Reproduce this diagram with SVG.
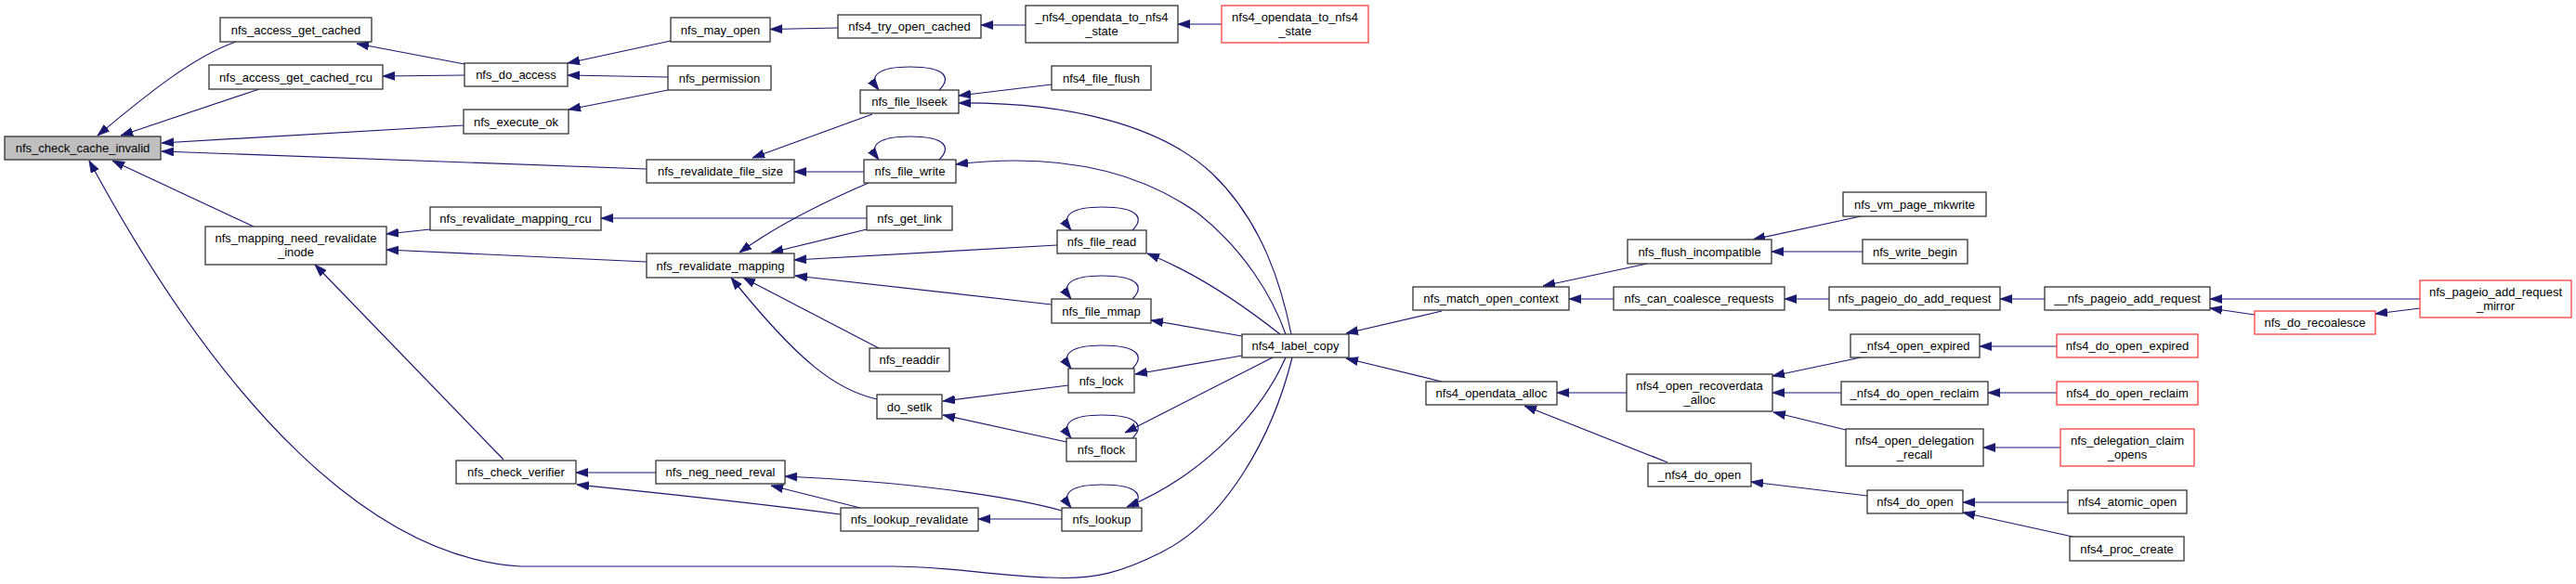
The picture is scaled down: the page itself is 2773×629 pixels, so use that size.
<svg xmlns="http://www.w3.org/2000/svg" width="2773" height="629" viewBox="0 0 2773 629">
<defs>
<style>
.n rect{fill:#ffffff;stroke:#333333;stroke-width:1.3}
.n.root rect{fill:#bfbfbf}
.n.red rect{stroke:#ff4040}
.n text{font-family:"Liberation Sans",Arial,sans-serif;font-size:13px;fill:#000000;text-anchor:middle}
#edges path{fill:none;stroke:#191970;stroke-width:1.2;marker-end:url(#ah)}
</style>
<marker id="ah" markerUnits="userSpaceOnUse" markerWidth="14" markerHeight="10" refX="13" refY="5" orient="auto" viewBox="0 0 14 10">
<path d="M0,0.5 L13,5 L0,9.5 z" fill="#191970" stroke="#191970" stroke-width="0.8"/>
</marker>
</defs>
<rect width="2773" height="629" fill="#ffffff"/>
<g id="edges">
<path d="M254,45 C210,60 160,100 105,146"/>
<path d="M279,96 L130,146"/>
<path d="M499,135 L174,154"/>
<path d="M696,182 L174,163"/>
<path d="M273,244 L121,173"/>
<path d="M1391,385 C1370,470 1320,560 1250,595 C1210,615 1180,625 1130,622 C1070,620 1020,610 960,610 L560,610 C400,600 240,440 96,173"/>
<path d="M500,69 L384,47"/>
<path d="M500,81 L412,82"/>
<path d="M722,44 L611,68"/>
<path d="M719,83 L611,81"/>
<path d="M719,97 L612,118"/>
<path d="M902,30 L829,31.5"/>
<path d="M1104,27 L1056,27"/>
<path d="M1315,26 L1268,26"/>
<path d="M1132,91 L1032,103"/>
<path d="M1390,360 C1380,310 1360,240 1305,187 C1250,135 1150,110 1032,111"/>
<path d="M1011,97 C1023,85 1021,72 979,72 C949,72 933,80 946,97"/>
<path d="M939,123 L810,170"/>
<path d="M930,185 L855,185"/>
<path d="M1011,172 C1023,160 1021,147 979,147 C949,147 933,155 946,172"/>
<path d="M1384,360 C1370,320 1340,270 1290,230 C1220,180 1130,165 1029,177"/>
<path d="M935,197 C900,212 840,240 796,272"/>
<path d="M933,235 L647,235"/>
<path d="M933,247 L830,272"/>
<path d="M1138,264 L855,280"/>
<path d="M1219,248 C1231,236 1228,223 1186,223 C1156,223 1140,231 1153,248"/>
<path d="M1378,360 C1340,330 1290,295 1235,273"/>
<path d="M1132,328 L856,297"/>
<path d="M1219,322 C1231,310 1228,297 1186,297 C1156,297 1140,305 1153,322"/>
<path d="M1337,362 L1239,345"/>
<path d="M946,375 L800,299"/>
<path d="M944,430 C900,420 860,390 787,299"/>
<path d="M1150,415 L1015,432"/>
<path d="M1219,397 C1231,385 1228,372 1186,372 C1156,372 1140,380 1153,397"/>
<path d="M1337,383 L1222,403"/>
<path d="M1148,476 L1015,447"/>
<path d="M1219,472 C1231,460 1228,447 1186,447 C1156,447 1140,455 1153,472"/>
<path d="M1370,385 L1211,466"/>
<path d="M706,509 L620,509"/>
<path d="M905,554 C800,540 700,530 621,522"/>
<path d="M926,547 L830,523"/>
<path d="M1143,550 C1100,538 1000,520 845,513"/>
<path d="M1143,559 L1053,559"/>
<path d="M1219,547 C1231,535 1228,522 1186,522 C1156,522 1140,530 1153,547"/>
<path d="M1384,385 C1360,440 1300,510 1213,546"/>
<path d="M542,495 L339,285"/>
<path d="M463,247 L416,252"/>
<path d="M696,282 L416,269"/>
<path d="M1552,335 L1449,359"/>
<path d="M1552,411 L1449,386"/>
<path d="M1773,284 L1661,308"/>
<path d="M1737,322 L1689,322"/>
<path d="M2003,233 L1887,258"/>
<path d="M2005,271 L1907,271"/>
<path d="M1969,322 L1921,322"/>
<path d="M2201,322 L2153,322"/>
<path d="M2605,322 L2379,322"/>
<path d="M2427,339 L2379,332"/>
<path d="M2605,332 L2557,338"/>
<path d="M2003,385 L1908,405"/>
<path d="M1982,423 L1908,423"/>
<path d="M1987,463 L1909,444"/>
<path d="M1751,423 L1676,423"/>
<path d="M1795,498 L1641,437"/>
<path d="M2010,534 L1885,519"/>
<path d="M2214,373 L2131,373"/>
<path d="M2214,423 L2140,423"/>
<path d="M2218,482 L2135,482"/>
<path d="M2226,541 L2113,541"/>
<path d="M2231,578 L2113,552"/>
</g>
<g id="nfs_check_cache_invalid" class="n root"><rect x="5" y="147" width="168" height="25"/><text x="89" y="164">nfs_check_cache_invalid</text></g>
<g id="nfs_access_get_cached" class="n"><rect x="237" y="19" width="163" height="26"/><text x="318.5" y="36.5">nfs_access_get_cached</text></g>
<g id="nfs_access_get_cached_rcu" class="n"><rect x="225" y="70" width="187" height="26"/><text x="318.5" y="87.5">nfs_access_get_cached_rcu</text></g>
<g id="nfs_do_access" class="n"><rect x="500" y="68" width="111" height="25"/><text x="555.5" y="85">nfs_do_access</text></g>
<g id="nfs_execute_ok" class="n"><rect x="499" y="118" width="113" height="26"/><text x="555.5" y="135.5">nfs_execute_ok</text></g>
<g id="nfs_revalidate_file_size" class="n"><rect x="696" y="172" width="159" height="25"/><text x="775.5" y="189">nfs_revalidate_file_size</text></g>
<g id="nfs_revalidate_mapping_rcu" class="n"><rect x="463" y="223" width="184" height="25"/><text x="555" y="240">nfs_revalidate_mapping_rcu</text></g>
<g id="nfs_mapping_need_revalidate_inode" class="n"><rect x="221" y="244" width="195" height="41"/><text x="318.5" y="261">nfs_mapping_need_revalidate</text><text x="318.5" y="275.5">_inode</text></g>
<g id="nfs_revalidate_mapping" class="n"><rect x="696" y="273" width="159" height="26"/><text x="775.5" y="290.5">nfs_revalidate_mapping</text></g>
<g id="nfs_check_verifier" class="n"><rect x="491" y="496" width="129" height="25"/><text x="555.5" y="513">nfs_check_verifier</text></g>
<g id="nfs_may_open" class="n"><rect x="722" y="19" width="107" height="26"/><text x="775.5" y="36.5">nfs_may_open</text></g>
<g id="nfs4_try_open_cached" class="n"><rect x="902" y="16" width="154" height="25"/><text x="979" y="33">nfs4_try_open_cached</text></g>
<g id="_nfs4_opendata_to_nfs4_state" class="n"><rect x="1104" y="6" width="164" height="40"/><text x="1186" y="23">_nfs4_opendata_to_nfs4</text><text x="1186" y="37.5">_state</text></g>
<g id="nfs4_opendata_to_nfs4_state" class="n red"><rect x="1315" y="6" width="158" height="40"/><text x="1394" y="23">nfs4_opendata_to_nfs4</text><text x="1394" y="37.5">_state</text></g>
<g id="nfs_permission" class="n"><rect x="719" y="71" width="111" height="26"/><text x="774.5" y="88.5">nfs_permission</text></g>
<g id="nfs_file_llseek" class="n"><rect x="926" y="97" width="106" height="25"/><text x="979" y="114">nfs_file_llseek</text></g>
<g id="nfs4_file_flush" class="n"><rect x="1132" y="71" width="107" height="26"/><text x="1185.5" y="88.5">nfs4_file_flush</text></g>
<g id="nfs_file_write" class="n"><rect x="930" y="172" width="99" height="25"/><text x="979.5" y="189">nfs_file_write</text></g>
<g id="nfs_get_link" class="n"><rect x="933" y="222" width="92" height="26"/><text x="979" y="239.5">nfs_get_link</text></g>
<g id="nfs_file_read" class="n"><rect x="1138" y="248" width="96" height="25"/><text x="1186" y="265">nfs_file_read</text></g>
<g id="nfs_file_mmap" class="n"><rect x="1132" y="322" width="107" height="26"/><text x="1185.5" y="339.5">nfs_file_mmap</text></g>
<g id="nfs_readdir" class="n"><rect x="936" y="375" width="86" height="25"/><text x="979" y="392">nfs_readdir</text></g>
<g id="nfs_lock" class="n"><rect x="1150" y="397" width="71" height="26"/><text x="1185.5" y="414.5">nfs_lock</text></g>
<g id="do_setlk" class="n"><rect x="944" y="425" width="70" height="26"/><text x="979" y="442.5">do_setlk</text></g>
<g id="nfs_flock" class="n"><rect x="1148" y="472" width="75" height="25"/><text x="1185.5" y="489">nfs_flock</text></g>
<g id="nfs_neg_need_reval" class="n"><rect x="706" y="496" width="139" height="25"/><text x="775.5" y="513">nfs_neg_need_reval</text></g>
<g id="nfs_lookup_revalidate" class="n"><rect x="905" y="547" width="148" height="25"/><text x="979" y="564">nfs_lookup_revalidate</text></g>
<g id="nfs_lookup" class="n"><rect x="1143" y="547" width="86" height="25"/><text x="1186" y="564">nfs_lookup</text></g>
<g id="nfs4_label_copy" class="n"><rect x="1337" y="360" width="115" height="25"/><text x="1394.5" y="377">nfs4_label_copy</text></g>
<g id="nfs_match_open_context" class="n"><rect x="1521" y="309" width="168" height="25"/><text x="1605" y="326">nfs_match_open_context</text></g>
<g id="nfs_can_coalesce_requests" class="n"><rect x="1737" y="309" width="184" height="25"/><text x="1829" y="326">nfs_can_coalesce_requests</text></g>
<g id="nfs_pageio_do_add_request" class="n"><rect x="1969" y="309" width="184" height="25"/><text x="2061" y="326">nfs_pageio_do_add_request</text></g>
<g id="__nfs_pageio_add_request" class="n"><rect x="2201" y="309" width="178" height="25"/><text x="2290" y="326">__nfs_pageio_add_request</text></g>
<g id="nfs_pageio_add_request_mirror" class="n red"><rect x="2605" y="302" width="163" height="40"/><text x="2686.5" y="319">nfs_pageio_add_request</text><text x="2686.5" y="333.5">_mirror</text></g>
<g id="nfs_do_recoalesce" class="n red"><rect x="2427" y="335" width="130" height="25"/><text x="2492" y="352">nfs_do_recoalesce</text></g>
<g id="nfs4_opendata_alloc" class="n"><rect x="1535" y="411" width="141" height="25"/><text x="1605.5" y="428">nfs4_opendata_alloc</text></g>
<g id="nfs4_open_recoverdata_alloc" class="n"><rect x="1751" y="403" width="157" height="40"/><text x="1829.5" y="420">nfs4_open_recoverdata</text><text x="1829.5" y="434.5">_alloc</text></g>
<g id="_nfs4_do_open" class="n"><rect x="1774" y="499" width="111" height="25"/><text x="1829.5" y="516">_nfs4_do_open</text></g>
<g id="_nfs4_open_expired" class="n"><rect x="1992" y="360" width="139" height="25"/><text x="2061.5" y="377">_nfs4_open_expired</text></g>
<g id="_nfs4_do_open_reclaim" class="n"><rect x="1982" y="411" width="158" height="25"/><text x="2061" y="428">_nfs4_do_open_reclaim</text></g>
<g id="nfs4_open_delegation_recall" class="n"><rect x="1987" y="462" width="148" height="40"/><text x="2061" y="479">nfs4_open_delegation</text><text x="2061" y="493.5">_recall</text></g>
<g id="nfs4_do_open" class="n"><rect x="2010" y="528" width="103" height="25"/><text x="2061.5" y="545">nfs4_do_open</text></g>
<g id="nfs_vm_page_mkwrite" class="n"><rect x="1984" y="207" width="154" height="26"/><text x="2061" y="224.5">nfs_vm_page_mkwrite</text></g>
<g id="nfs_flush_incompatible" class="n"><rect x="1752" y="258" width="155" height="26"/><text x="1829.5" y="275.5">nfs_flush_incompatible</text></g>
<g id="nfs_write_begin" class="n"><rect x="2005" y="258" width="113" height="26"/><text x="2061.5" y="275.5">nfs_write_begin</text></g>
<g id="nfs4_do_open_expired" class="n red"><rect x="2214" y="360" width="152" height="25"/><text x="2290" y="377">nfs4_do_open_expired</text></g>
<g id="nfs4_do_open_reclaim" class="n red"><rect x="2214" y="411" width="152" height="25"/><text x="2290" y="428">nfs4_do_open_reclaim</text></g>
<g id="nfs_delegation_claim_opens" class="n red"><rect x="2218" y="462" width="144" height="40"/><text x="2290" y="479">nfs_delegation_claim</text><text x="2290" y="493.5">_opens</text></g>
<g id="nfs4_atomic_open" class="n"><rect x="2226" y="528" width="128" height="25"/><text x="2290" y="545">nfs4_atomic_open</text></g>
<g id="nfs4_proc_create" class="n"><rect x="2228" y="578" width="123" height="26"/><text x="2289.5" y="595.5">nfs4_proc_create</text></g>
</svg>
